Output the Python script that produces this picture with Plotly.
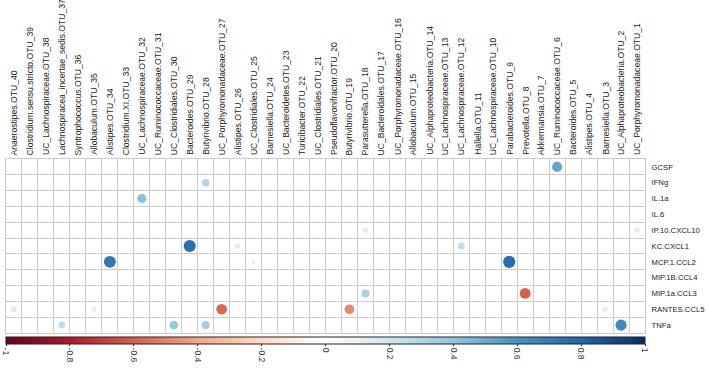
import plotly.graph_objects as go
import math

otu_labels = [
    "Anaerostipes.OTU_40", "Clostridium.sensu.stricto.OTU_39", "UC_Lachnospiraceae.OTU_38",
    "Lachnospiracea_incertae_sedis.OTU_37", "Syntrophococcus.OTU_36", "Allobaculum.OTU_35",
    "Alistipes.OTU_34", "Clostridium.XI.OTU_33", "UC_Lachnospiraceae.OTU_32",
    "UC_Ruminococcaceae.OTU_31", "UC_Clostridiales.OTU_30", "Bacteroides.OTU_29",
    "Butyrivibrio.OTU_28", "UC_Porphyromonadaceae.OTU_27", "Alistipes.OTU_26",
    "UC_Clostridiales.OTU_25", "Barnesiella.OTU_24", "UC_Bacteroidetes.OTU_23",
    "Turicibacter.OTU_22", "UC_Clostridiales.OTU_21", "Pseudoflavonifractor.OTU_20",
    "Butyrivibrio.OTU_19", "Parasutterella.OTU_18", "UC_Bacteroidales.OTU_17",
    "UC_Porphyromonadaceae.OTU_16", "Allobaculum.OTU_15", "UC_Alphaproteobacteria.OTU_14",
    "UC_Lachnospiraceae.OTU_13", "UC_Lachnospiraceae.OTU_12", "Hallella.OTU_11",
    "UC_Lachnospiraceae.OTU_10", "Parabacteroides.OTU_9", "Prevotella.OTU_8",
    "Akkermansia.OTU_7", "UC_Ruminococcaceae.OTU_6", "Bacteroides.OTU_5",
    "Alistipes.OTU_4", "Barnesiella.OTU_3", "UC_Alphaproteobacteria.OTU_2",
    "UC_Porphyromonadaceae.OTU_1",
]

cytokines = [
    "GCSF", "IFNg", "IL.1a", "IL.6", "IP.10.CXCL10", "KC.CXCL1",
    "MCP.1.CCL2", "MIP.1B.CCL4", "MIP.1a.CCL3", "RANTES.CCL5", "TNFa",
]

# significant correlations (cytokine, OTU, r)
corr_rows = [
    "GCSF", "IFNg", "IL.1a",
    "IP.10.CXCL10", "IP.10.CXCL10",
    "KC.CXCL1", "KC.CXCL1", "KC.CXCL1",
    "MCP.1.CCL2", "MCP.1.CCL2", "MCP.1.CCL2",
    "MIP.1a.CCL3", "MIP.1a.CCL3",
    "RANTES.CCL5", "RANTES.CCL5", "RANTES.CCL5", "RANTES.CCL5", "RANTES.CCL5",
    "TNFa", "TNFa", "TNFa", "TNFa",
]
corr_cols = [
    "UC_Ruminococcaceae.OTU_6", "Butyrivibrio.OTU_28", "UC_Lachnospiraceae.OTU_32",
    "Parasutterella.OTU_18", "UC_Porphyromonadaceae.OTU_1",
    "Bacteroides.OTU_29", "Alistipes.OTU_26", "UC_Lachnospiraceae.OTU_12",
    "Alistipes.OTU_34", "UC_Clostridiales.OTU_25", "Parabacteroides.OTU_9",
    "Parasutterella.OTU_18", "Prevotella.OTU_8",
    "Anaerostipes.OTU_40", "Allobaculum.OTU_35", "UC_Porphyromonadaceae.OTU_27",
    "Butyrivibrio.OTU_19", "Barnesiella.OTU_3",
    "Lachnospiracea_incertae_sedis.OTU_37", "UC_Clostridiales.OTU_30",
    "Butyrivibrio.OTU_28", "UC_Alphaproteobacteria.OTU_2",
]
corr_vals = [
    0.52, 0.30, 0.42,
    -0.15, -0.15,
    0.75, 0.15, 0.25,
    0.72, 0.10, 0.76,
    0.33, -0.60,
    -0.17, -0.14, -0.58, -0.48, -0.14,
    0.25, 0.38, 0.35, 0.64,
]

cbar_ticks = [-1, -0.8, -0.6, -0.4, -0.2, 0, 0.2, 0.4, 0.6, 0.8, 1]
cbar_text = ["-1", "-0.8", "-0.6", "-0.4", "-0.2", "0", "0.2", "0.4", "0.6", "0.8", "1"]

rdbu = ["#67001F", "#B2182B", "#D6604D", "#F4A582", "#FDDBC7", "#FFFFFF",
        "#D1E5F0", "#92C5DE", "#4393C3", "#2166AC", "#053061"]
colorscale = [[i / (len(rdbu) - 1), c] for i, c in enumerate(rdbu)]

xs = [otu_labels.index(c) for c in corr_cols]
ys = [cytokines.index(r) for r in corr_rows]
sizes = [14 * math.sqrt(abs(v)) for v in corr_vals]

W, H = 708, 368
ml, mr, mt, mb = 6, 63, 159, 35
plot_h = H - mt - mb

fig = go.Figure(go.Scatter(
    x=xs, y=ys, mode="markers",
    marker=dict(
        size=sizes, color=corr_vals, cmin=-1, cmax=1, colorscale=colorscale,
        line=dict(width=0), opacity=1,
        colorbar=dict(
            orientation="h", len=1, lenmode="fraction", x=0.5, xanchor="center",
            y=-4 / plot_h, yanchor="top", thickness=7, thicknessmode="pixels",
            xpad=0, ypad=0, outlinewidth=1, outlinecolor="#222222",
            tickmode="array", tickvals=cbar_ticks, ticktext=cbar_text,
            ticks="outside", ticklen=2, tickcolor="#333333", tickwidth=1,
            tickangle=90, tickfont=dict(size=8.5, color="#333333", family="Liberation Sans"),
        ),
    ),
    hoverinfo="skip",
    showlegend=False,
))

# column labels, rotated, sitting on top of the grid
for i, lab in enumerate(otu_labels):
    fig.add_annotation(
        x=i, xref="x", y=1, yref="paper", text=lab, showarrow=False,
        textangle=-90, xanchor="center", yanchor="bottom", yshift=3,
        font=dict(size=8.6, color="#222222", family="Liberation Sans"),
        borderpad=0,
    )

grid_color = "#cccccc"
fig.update_layout(
    width=W, height=H, autosize=False,
    margin=dict(l=ml, r=mr, t=mt, b=mb, pad=0, autoexpand=False),
    paper_bgcolor="white", plot_bgcolor="white",
    font=dict(family="Liberation Sans", color="#222222"),
    xaxis=dict(
        range=[-0.5, len(otu_labels) - 0.5], side="top", automargin=False,
        tickmode="array", tickvals=list(range(len(otu_labels))),
        showticklabels=False, ticks="",
        showgrid=False, zeroline=False,
        showline=True, linecolor=grid_color, linewidth=1, mirror=True,
        minor=dict(tickmode="linear", tick0=-0.5, dtick=1, showgrid=True,
                   gridcolor=grid_color, gridwidth=1, ticks=""),
        fixedrange=True,
    ),
    yaxis=dict(
        range=[len(cytokines) - 0.5, -0.5], side="right", automargin=False,
        tickmode="array", tickvals=list(range(len(cytokines))), ticktext=cytokines,
        tickfont=dict(size=7.7, color="#222222"),
        ticks="outside", ticklen=4, tickcolor="rgba(0,0,0,0)",
        showgrid=False, zeroline=False,
        showline=True, linecolor=grid_color, linewidth=1, mirror=True,
        minor=dict(tickmode="linear", tick0=-0.5, dtick=1, showgrid=True,
                   gridcolor=grid_color, gridwidth=1, ticks=""),
        fixedrange=True,
    ),
)

fig.write_html("out.html", config={"displayModeBar": False, "staticPlot": True},
               post_script="document.body.style.margin='0px';")
